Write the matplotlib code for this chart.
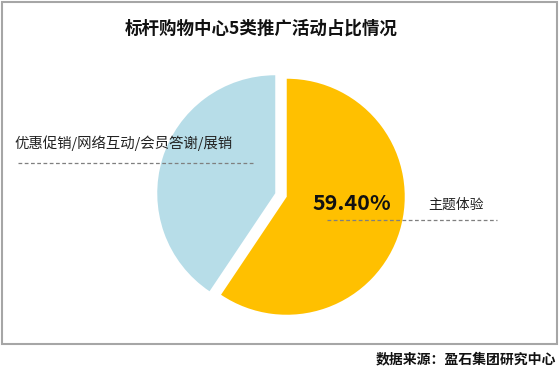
import matplotlib
matplotlib.use("Agg")
import matplotlib.pyplot as plt
from matplotlib.patches import Rectangle

plt.rcParams['font.family'] = ['Noto Sans CJK SC', 'DejaVu Sans']

# data
labels = ['主题体验', '优惠促销/网络互动/会员答谢/展销']
shares = [59.4, 40.6]
colors = ['#FFC000', '#B7DDE8']
title = '标杆购物中心5类推广活动占比情况'
source = '数据来源：盈石集团研究中心'

W, H = 560, 370
fig = plt.figure(figsize=(W / 100, H / 100), dpi=100)
ax = fig.add_axes([0, 0, 1, 1])

# pie in pixel-like data units (y up)
cx, cy, r = 281, H - 195, 118
ax.pie(shares, colors=colors, startangle=90, counterclock=False,
       radius=r, center=(cx, cy), explode=[6, 6],
       wedgeprops=dict(linewidth=0))
ax.set_xlim(0, W)
ax.set_ylim(0, H)
ax.set_aspect('auto')
ax.axis('off')

# chart frame
ax.add_patch(Rectangle((2, H - 344), 555, 342, fill=False,
                       edgecolor='#A6A6A6', linewidth=1.5))

ax.text(261, H - 29, title, ha='center', va='center',
        fontsize=12.6, fontweight='bold', color='#111111')

# 主题体验 label
ax.text(352, H - 204, f'{shares[0]:.2f}%', ha='center', va='center',
        fontsize=15.5, fontweight='bold', color='#111111')
ax.text(456, H - 205, labels[0], ha='center', va='center',
        fontsize=10, color='#222222')
ax.plot([327, 497], [H - 220, H - 220], color='#7f7f7f', lw=0.9,
        dashes=(3, 2))

# left label
ax.text(14, H - 143, labels[1], ha='left', va='center',
        fontsize=10.4, color='#222222')
ax.plot([18, 255], [H - 163, H - 163], color='#7f7f7f', lw=0.9,
        dashes=(3, 2))

ax.text(556, H - 359, source, ha='right', va='center',
        fontsize=10, fontweight='bold', color='#111111')

fig.savefig('out.png', dpi=100)
